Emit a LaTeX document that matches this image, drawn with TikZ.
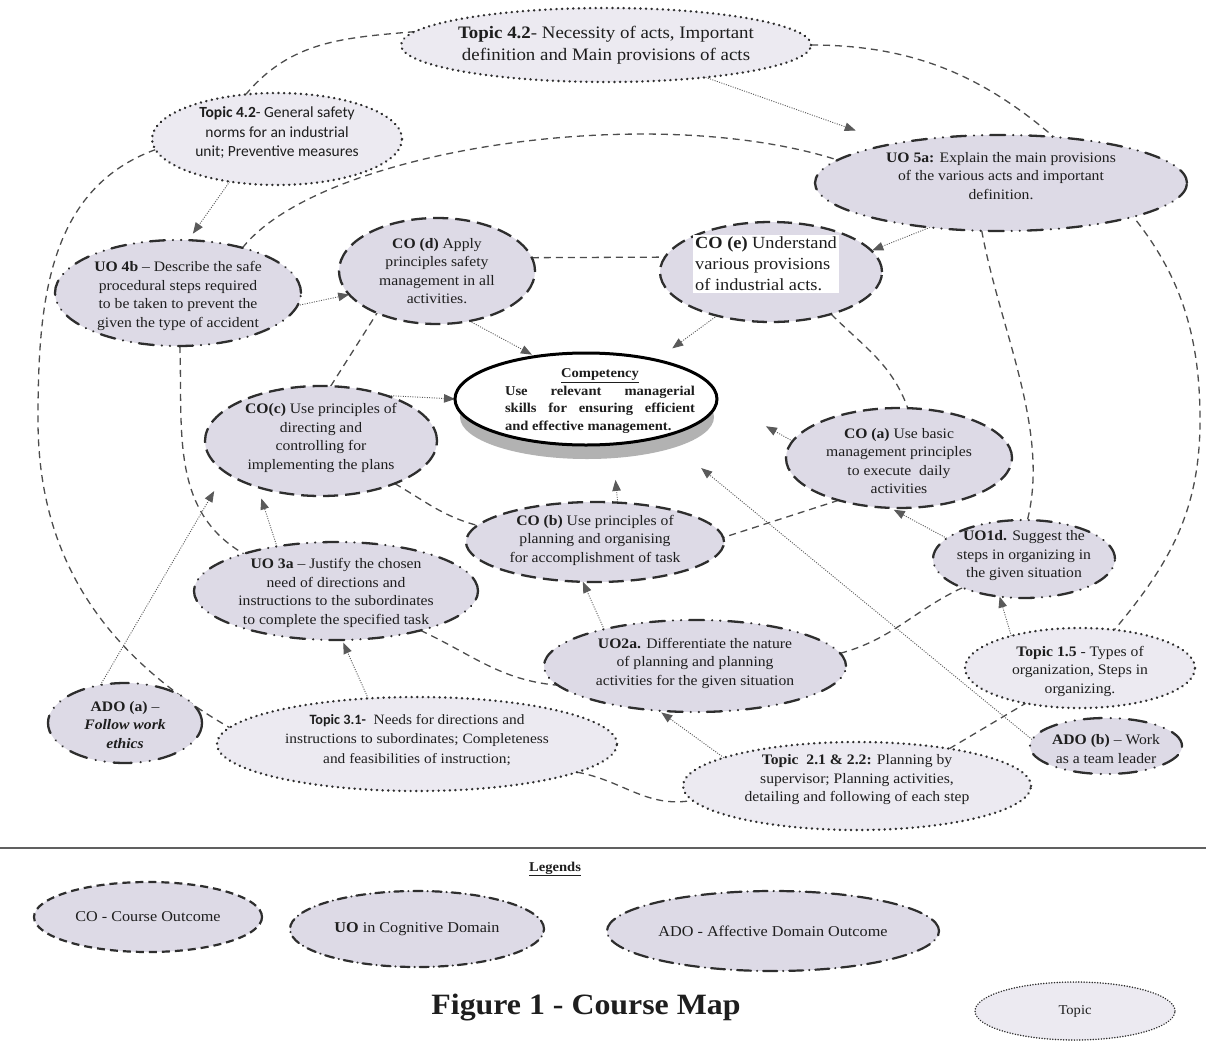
\documentclass[tikz,border=0pt]{standalone}
\usepackage{fontspec}
\setmainfont{Liberation Serif}
\newfontfamily\mybody[FakeStretch=1.08,Ligatures=TeX]{Liberation Serif}
\newfontfamily\mycal[Ligatures=TeX]{Carlito}
\usetikzlibrary{shapes.geometric,arrows.meta}
\pgfdeclarelayer{back}
\pgfdeclarelayer{links}
\pgfsetlayers{back,links,main}
\definecolor{nodefill}{HTML}{DDDAE6}
\definecolor{topicfill}{HTML}{ECEAF1}
\definecolor{edgeclr}{HTML}{2E2E2E}
\definecolor{ringclr}{HTML}{4D4D4D}
\definecolor{arrclr}{HTML}{5A5A5A}
\definecolor{txtclr}{HTML}{1E1E1E}
\newcommand\fntmain{\mybody\fontsize{14.5}{18.5}\selectfont}
\newcommand\fnttop{\mybody\fontsize{17.5}{21.5}\selectfont}
\newcommand\fntcoe{\mybody\fontsize{17}{21}\selectfont}
\newcommand\fntcal{\mycal\fontsize{15.5}{19.5}\selectfont}
\newcommand\fnttopic{\mybody\fontsize{14.25}{19.5}\selectfont}
\newcommand\fntcomp{\mybody\fontsize{13.5}{17.5}\selectfont\bfseries}
\newcommand\fntleg{\mybody\fontsize{15}{18}\selectfont}
\newcommand\fntlegs{\mybody\fontsize{13.5}{16}\selectfont}
\newcommand\fnttitle{\mybody\fontsize{29.5}{34}\selectfont\bfseries}
\tikzset{
 base/.style={ellipse, inner sep=0pt, outer sep=0pt, fill=nodefill, draw=edgeclr},
 costyle/.style={base, line width=2.3pt, dash pattern=on 15pt off 7pt},
 uostyle/.style={base, line width=2.3pt, line cap=round, dash pattern=on 15pt off 8pt on 0.1pt off 8pt on 0.1pt off 8pt},
 adostyle/.style={base, line width=2.3pt, line cap=round, dash pattern=on 18pt off 9pt on 0.1pt off 9pt on 0.1pt off 9pt},
 topicstyle/.style={base, fill=topicfill, line width=2.6pt, line cap=round, dash pattern=on 0.1pt off 5.5pt},
 legco/.style={base, line width=2.2pt, dash pattern=on 8pt off 5pt},
 leguo/.style={base, line width=2.2pt, line cap=round, dash pattern=on 9pt off 5pt on 0.1pt off 5pt},
 legado/.style={base, line width=2.2pt, line cap=round, dash pattern=on 14pt off 6pt on 0.1pt off 6pt},
 legtopic/.style={base, fill=topicfill, line width=1.6pt, line cap=round, dash pattern=on 0.1pt off 2.6pt},
 compstyle/.style={ellipse, inner sep=0pt, outer sep=0pt, fill=white, draw=black, line width=3pt},
 txt/.style={align=center, inner sep=0pt, text=txtclr},
 ring/.style={draw=ringclr, line width=1.3pt, dash pattern=on 7pt off 5pt},
 arr/.style={draw=arrclr, line width=0.9pt, dash pattern=on 1pt off 1.4pt, -{Triangle[length=11pt,width=8.5pt]}},
}
% style, name, x, y, w, h, font, text-dy, text
\newcommand\ovalnode[9]{%
  \node[#1, minimum width=#5pt, minimum height=#6pt] (#2) at (#3,-#4) {};
  \node[txt, font=#7] (#2-t) at ([yshift=#8pt]#2.center) {#9};}
\begin{document}
\begin{tikzpicture}[x=1pt,y=1pt]
\begin{pgfonlayer}{back}
\fill[white] (0,0) rectangle (1206,-1041);
\end{pgfonlayer}
\useasboundingbox (0,0) rectangle (1206,-1041);

% ---------- nodes ----------
\ovalnode{topicstyle}{t42}{606}{45}{410}{74}{\fnttop}{0}{\textbf{Topic 4.2}- Necessity of acts, Important\\definition and Main provisions of acts}
\ovalnode{topicstyle}{t42g}{277}{139}{250}{92}{\fntcal}{6}{\textbf{Topic 4.2}- General safety\\norms for an industrial\\unit; Preventive measures}
\ovalnode{uostyle}{uo5a}{1001}{183}{372}{96}{\fntmain}{7}{\textbf{UO 5a:} Explain the main provisions\\of the various acts and important\\definition.}
\ovalnode{uostyle}{uo4b}{178}{293}{246}{106}{\fntmain}{-3}{\textbf{UO 4b} – Describe the safe\\procedural steps required\\to be taken to prevent the\\given the type of accident}
\ovalnode{costyle}{cod}{437}{271}{196}{106}{\fntmain}{0}{\textbf{CO (d)} Apply\\principles safety\\management in all\\activities.}
\node[costyle, minimum width=222pt, minimum height=100pt] (coe) at (771,-272) {};
\node[txt, font=\fntcoe, align=left, fill=white, inner sep=2pt] (coe-t) at (766,-264) {\textbf{CO (e)} Understand\\various provisions\\of industrial acts.};

\node[ellipse, fill=gray!60, minimum width=254pt, minimum height=84pt, inner sep=0pt] (compshadow) at (587,-417) {};
\node[compstyle, minimum width=262pt, minimum height=92pt] (comp) at (586,-399) {};
\node[txt, font=\fntcomp] (comp-t) at (600,-401) {\underline{Competency}\\\makebox[190pt][s]{Use relevant managerial}\\\makebox[190pt][s]{skills for ensuring efficient}\\\makebox[190pt][l]{and effective management.}};

\ovalnode{costyle}{coc}{321}{441}{232}{110}{\fntmain}{3}{\textbf{CO(c)} Use principles of\\directing and\\controlling for\\implementing the plans}
\ovalnode{costyle}{coa}{899}{458}{226}{100}{\fntmain}{-3}{\textbf{CO (a)} Use basic\\management principles\\to execute\ \ daily\\activities}
\ovalnode{costyle}{cob}{595}{542}{258}{80}{\fntmain}{2}{\textbf{CO (b)} Use principles of\\planning and organising\\for accomplishment of task}
\ovalnode{uostyle}{uo1d}{1024}{559}{182}{78}{\fntmain}{3}{\textbf{UO1d.} Suggest the\\steps in organizing in\\the given situation}
\ovalnode{uostyle}{uo3a}{336}{591}{284}{98}{\fntmain}{-2}{\textbf{UO 3a} – Justify the chosen\\need of directions and\\instructions to the subordinates\\to complete the specified task}
\ovalnode{uostyle}{uo2a}{695}{666}{302}{92}{\fntmain}{3}{\textbf{UO2a.} Differentiate the nature\\of planning and planning\\activities for the given situation}
\ovalnode{topicstyle}{t15}{1080}{668}{230}{80}{\fntmain}{-3}{\textbf{Topic 1.5} - Types of\\organization, Steps in\\organizing.}
\ovalnode{adostyle}{adoa}{125}{723}{154}{80}{\fntmain}{-2}{\textbf{ADO (a)} –\\\textbf{\textit{Follow work}}\\\textbf{\textit{ethics}}}
\ovalnode{topicstyle}{t31}{417}{744}{400}{94}{\fnttopic}{4}{{\mycal\bfseries Topic 3.1-}\ \ Needs for directions and\\instructions to subordinates; Completeness\\and feasibilities of instruction;}
\ovalnode{adostyle}{adob}{1106}{746}{152}{56}{\fntmain}{-3}{\textbf{ADO (b)} – Work\\as a team leader}
\ovalnode{topicstyle}{t21}{857}{786}{348}{88}{\fntmain}{6}{\textbf{Topic\ \ 2.1 \& 2.2:} Planning by\\supervisor; Planning activities,\\detailing and following of each step}

% ---------- legend ----------
\draw[line width=2pt, draw=gray!75!black] (0,-848) -- (1206,-848);
\node[txt, font=\fntlegs] (legends) at (555,-869) {\underline{\textbf{Legends}}};
\ovalnode{legco}{lco}{148}{917}{228}{70}{\fntleg}{0}{CO - Course Outcome}
\ovalnode{leguo}{luo}{417}{929}{254}{76}{\fntleg}{0}{\textbf{UO} in Cognitive Domain}
\ovalnode{legado}{lado}{773}{931}{332}{80}{\fntleg}{0}{ADO - Affective Domain Outcome}
\ovalnode{legtopic}{ltopic}{1075}{1011}{200}{58}{\fntlegs}{0}{Topic}
\node[txt, font=\fnttitle] (title) at (586,-1008) {Figure 1 - Course Map};

% ---------- connectors ----------
\coordinate (lw) at (38,-420);
\coordinate (rt) at (1100,-180);
\coordinate (re) at (1200,-420);
\begin{pgfonlayer}{links}
% rings
\draw[ring] (cod.8) -- (coe.172);
\draw[ring] (coe.-35) to[out=-45,in=110] (coa.80);
\draw[ring] (coa.215) -- (cob.2);
\draw[ring] (coc.-30) to[out=-30,in=165] (cob.172);
\draw[ring] (coc.80) -- (cod.215);
\draw[ring] (uo4b.35) .. controls (320,-150) and (650,-100) .. (uo5a.172);
\draw[ring] (uo5a.-112) .. controls (1000,-330) and (1050,-430) .. (uo1d.85);
\draw[ring] (uo2a.5) to[out=15,in=205] (uo1d.205);
\draw[ring] (uo3a.-25) to[out=-25,in=175] (uo2a.188);
\draw[ring] (uo4b.-88) to[out=-88,in=150] (uo3a.158);
\draw[ring] (t42.176) to[out=185,in=50] (t42g.125);
\draw[ring] (t42g.185) to[out=200,in=90] (lw) to[out=-90,in=150] (t31.175);
\draw[ring] (t31.-10) to[out=-10,in=190] (t21.185);
\draw[ring] (t21.22) -- (t15.213);
\draw[ring] (t42.east) to[out=0,in=135] (rt) to[out=-45,in=90] (re) to[out=-90,in=50] (t15.48);
% arrows
\draw[arr, shorten >=40pt] (t42.-18) -- (uo5a.160);
\draw[arr, shorten >=8pt] (t42g.222) -- (uo4b.79);
\draw[arr, shorten >=1pt] (uo5a.212) -- (coe.12);
\draw[arr] (uo4b.-6) -- (cod.195);
\draw[arr, shorten >=4pt] (cod.-57) -- (comp.140);
\draw[arr, shorten >=20pt] (coe.219) -- (comp.29);
\draw[arr] (coc.35) -- (comp.west);
\draw[arr, shorten >=56pt] (coa.171) -- (comp.east);
\draw[arr, shorten >=36pt] (cob.60) -- (comp.-60);
\draw[arr, shorten >=4pt] (uo1d.165) -- (coa.260);
\draw[arr] (t15.155) -- (uo1d.237);
\draw[arr] (uo2a.158) -- (cob.253);
\draw[arr, shorten >=12pt] (uo3a.143) -- (coc.216);
\draw[arr, shorten >=22pt] (adoa.123) -- (coc.198);
\draw[arr, shorten >=3pt] (t31.137) -- (uo3a.277);
\draw[arr, shorten >=3pt] (t21.168) -- (uo2a.231);
\draw[arr, shorten >=50pt] (adob.175) -- (comp.-26);
\end{pgfonlayer}
\end{tikzpicture}
\end{document}
